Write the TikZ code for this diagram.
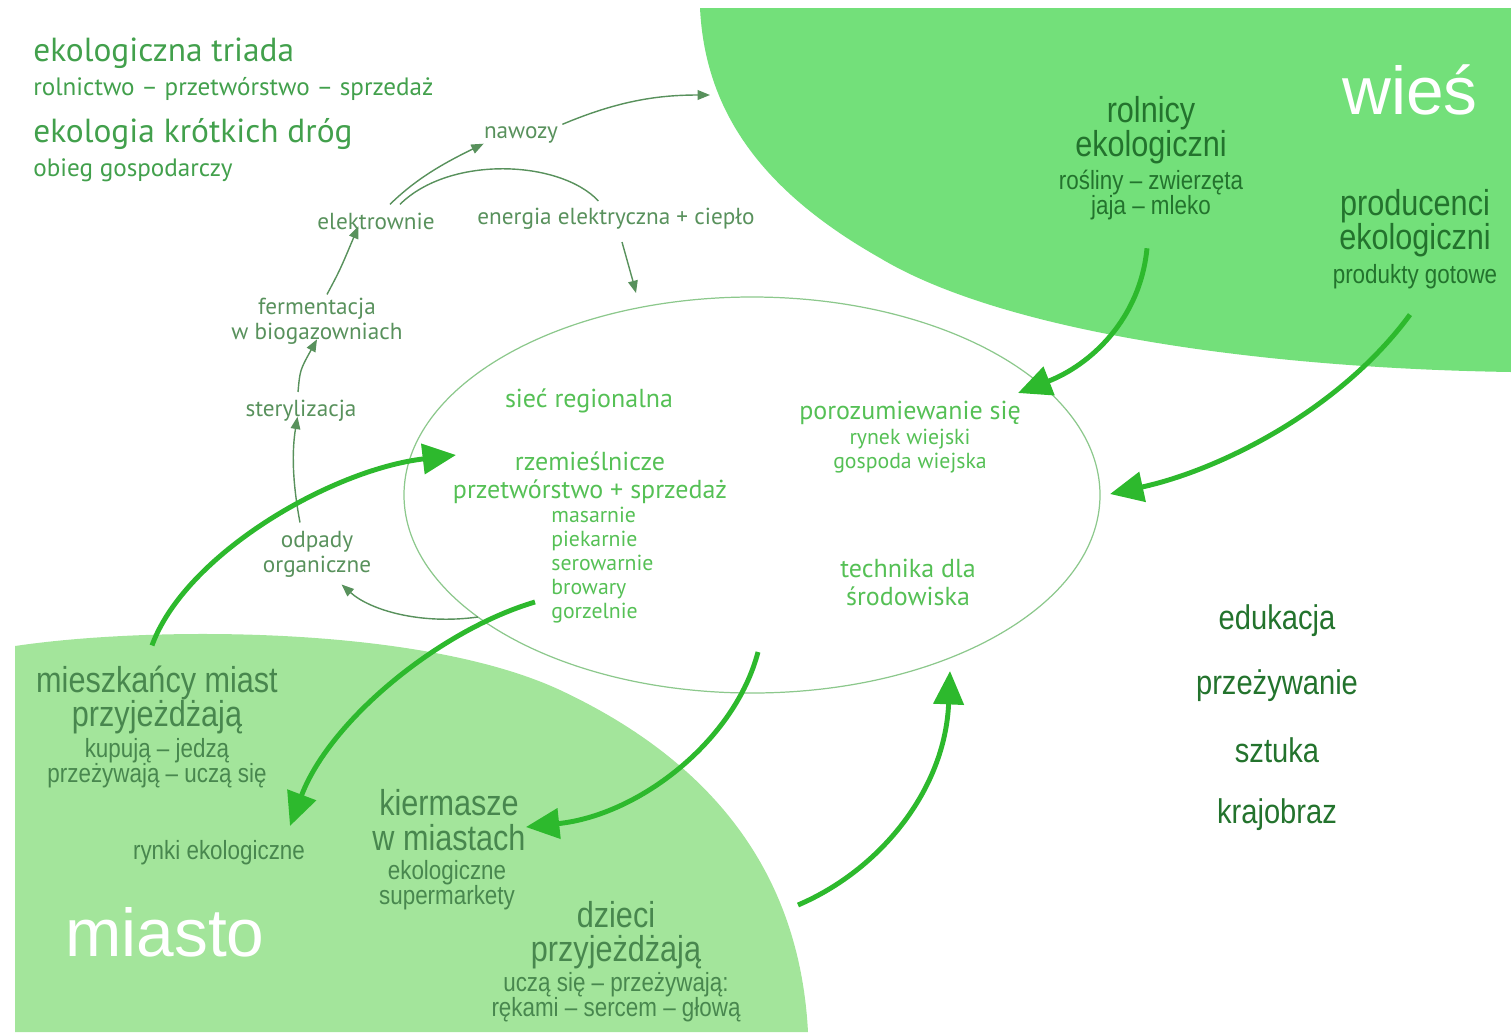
\documentclass[tikz,border=0pt]{standalone}
\usepackage{fontspec}
\setmainfont{PT Sans}
\newfontfamily\condfont[FakeStretch=0.85]{Liberation Sans}
\newfontfamily\plainfont{Liberation Sans}
\usetikzlibrary{arrows.meta}
\definecolor{wiesgreen}{RGB}{115,224,122}
\definecolor{miastogreen}{RGB}{163,229,155}
\definecolor{arrowgreen}{RGB}{45,185,45}
\definecolor{cyclegray}{RGB}{88,145,92}
\definecolor{ringgreen}{RGB}{140,200,140}
\definecolor{innergreen}{RGB}{85,192,85}
\definecolor{titlegreen}{RGB}{66,160,76}
\definecolor{darkgreen}{RGB}{35,115,45}
\definecolor{citygreen}{RGB}{72,135,78}
\tikzset{
  bigarrow/.style={draw=arrowgreen, line width=2.8pt, -{Triangle[length=19pt,width=17pt]}},
  cyclearrow/.style={draw=cyclegray, line width=0.8pt, -{Triangle[length=7pt,width=5.5pt]}},
  toplabel/.style={text=titlegreen, anchor=west, inner sep=0pt},
  cyclelabel/.style={text=cyclegray, align=center, inner sep=0pt, font=\fontsize{13.2}{14}\selectfont},
  ringlabel/.style={text=innergreen, align=center, inner sep=0pt},
  condlabel/.style={align=center, inner sep=0pt},
}
\begin{document}
\begin{tikzpicture}[x=0.02cm, y=-0.02cm]
\useasboundingbox (0,0) rectangle (1511,1032);
\fill[wiesgreen] (700,8) -- (1511,8) -- (1511,372) .. controls (1250,368) and (1000,330) .. (880,258)
  .. controls (760,190) and (705,110) .. (700,8) -- cycle;
\fill[miastogreen] (15,1032) -- (15,646) .. controls (150,626) and (420,625) .. (560,690)
  .. controls (720,765) and (800,880) .. (808,1032) -- cycle;
\draw[ringgreen, line width=0.7pt] (752,495) ellipse [x radius=348, y radius=198];

\node (triad) [toplabel, font=\fontsize{19}{20}\selectfont] at (33,53) {ekologiczna triada};
\node (triadsub) [toplabel, font=\fontsize{14.3}{15}\selectfont] at (33,89) {rolnictwo – przetwórstwo – sprzedaż};
\node (shortways) [toplabel, font=\fontsize{19}{20}\selectfont] at (33,134) {ekologia krótkich dróg};
\node (shortsub) [toplabel, font=\fontsize{14.3}{15}\selectfont] at (33,170) {obieg gospodarczy};

\node (nawozy) [cyclelabel] at (521,135) {nawozy};
\node (elektr) [cyclelabel] at (376,221) {elektrownie};
\node (energia) [cyclelabel] at (616,219) {energia elektryczna + ciepło};
\node (ferment) [cyclelabel, font=\fontsize{13.2}{14.3}\selectfont] at (317,321) {fermentacja\\w biogazowniach};
\node (steril) [cyclelabel] at (301,411) {sterylizacja};
\node (odpady) [cyclelabel, font=\fontsize{13.2}{14.3}\selectfont] at (317,554) {odpady\\organiczne};
\coordinate (wiesedge) at (710,95);
\coordinate (ringtop) at (636,293);
\coordinate (ringleft) at (478,617);

\draw[cyclearrow] (elektr.north) ++(14,-8) .. controls (415,180) and (440,165) .. (nawozy.south west);
\draw[cyclearrow] (nawozy.north east) ++(4,-2) .. controls (620,100) and (660,95) .. (wiesedge);
\draw[draw=cyclegray, line width=0.8pt] (elektr.north) ++(24,-8) .. controls (450,155) and (560,160) .. ([xshift=-10pt,yshift=4pt]energia.north);
\draw[cyclearrow] (energia.south) ++(6,12) .. controls (628,262) .. (ringtop);
\draw[cyclearrow] (ferment.north) ++(10,-3) .. controls (340,270) .. ([xshift=-10pt,yshift=2pt]elektr.south);
\draw[cyclearrow] (steril.north) ++(-3,-8) .. controls (300,370) .. ([yshift=3pt]ferment.south);
\draw[cyclearrow] (odpady.north) ++(-17,-8) .. controls (292,480) and (292,450) .. ([xshift=-2pt,yshift=3pt]steril.south);
\draw[cyclearrow] (ringleft) .. controls (420,625) and (370,610) .. ([xshift=14pt,yshift=-4pt]odpady.south);

\node (siec) [ringlabel, font=\fontsize{14.8}{16}\selectfont] at (589,401) {sieć regionalna};
\node (rzem) [ringlabel, font=\fontsize{14.8}{15.9}\selectfont] at (590,478) {rzemieślnicze\\przetwórstwo + sprzedaż};
\node (rzemsub) [ringlabel, align=left, anchor=west, font=\fontsize{12.4}{13.6}\selectfont] at (551,565) {masarnie\\piekarnie\\serowarnie\\browary\\gorzelnie};
\node (poroz) [ringlabel, font=\fontsize{14.8}{16}\selectfont] at (910,413) {porozumiewanie się};
\node (porozsub) [ringlabel, font=\fontsize{12.4}{13.6}\selectfont] at (910,451) {rynek wiejski\\gospoda wiejska};
\node (techn) [ringlabel, font=\fontsize{14.8}{15.9}\selectfont] at (908,582) {technika dla\\środowiska};

\node (wies) [text=white, inner sep=0pt, font=\plainfont\fontsize{38.5}{40}\selectfont] at (1410,90) {wieś};
\node (rolnicy) [condlabel, text=darkgreen, font=\condfont\fontsize{20.5}{19.6}\selectfont] at (1151,130) {rolnicy\\ekologiczni};
\node (rolnsub) [condlabel, text=darkgreen, font=\condfont\fontsize{15}{14.2}\selectfont] at (1151,195) {rośliny – zwierzęta\\jaja – mleko};
\node (produc) [condlabel, text=darkgreen, font=\condfont\fontsize{20.5}{19.6}\selectfont] at (1415,223) {producenci\\ekologiczni};
\node (producsub) [condlabel, text=darkgreen, font=\condfont\fontsize{15}{16}\selectfont] at (1415,277) {produkty gotowe};

\node (miasto) [text=white, inner sep=0pt, font=\plainfont\fontsize{38.5}{40}\selectfont] at (165,932) {miasto};
\node (mieszk) [condlabel, text=citygreen, font=\condfont\fontsize{20.5}{19.6}\selectfont] at (157,700) {mieszkańcy miast\\przyjeżdżają};
\node (mieszksub) [condlabel, text=citygreen, font=\condfont\fontsize{15}{14.2}\selectfont] at (157,763) {kupują – jedzą\\przeżywają – uczą się};
\node (rynki) [condlabel, text=citygreen, font=\condfont\fontsize{15}{16}\selectfont] at (219,853) {rynki ekologiczne};
\node (kiermasze) [condlabel, text=citygreen, font=\condfont\fontsize{20.5}{19.6}\selectfont] at (449,820) {kiermasze\\w miastach};
\node (kiermsub) [condlabel, text=citygreen, font=\condfont\fontsize{15}{14.2}\selectfont] at (447,885) {ekologiczne\\supermarkety};
\node (dzieci) [condlabel, text=citygreen, font=\condfont\fontsize{20.5}{19.6}\selectfont] at (616,935) {dzieci\\przyjeżdżają};
\node (dziecisub) [condlabel, text=citygreen, font=\condfont\fontsize{15}{14.2}\selectfont] at (616,997) {uczą się – przeżywają:\\rękami – sercem – głową};

\node (edukacja) [condlabel, text=darkgreen, font=\condfont\fontsize{19.5}{20}\selectfont] at (1277,621) {edukacja};
\node (przezyw) [condlabel, text=darkgreen, font=\condfont\fontsize{19.5}{20}\selectfont] at (1277,686) {przeżywanie};
\node (sztuka) [condlabel, text=darkgreen, font=\condfont\fontsize{19.5}{20}\selectfont] at (1277,750) {sztuka};
\node (krajobraz) [condlabel, text=darkgreen, font=\condfont\fontsize{19.5}{20}\selectfont] at (1277,815) {krajobraz};

\coordinate (cityin) at (456,455);
\coordinate (ringout) at (535,602);
\coordinate (marketin) at (290,826);
\coordinate (ringlow) at (758,652);
\coordinate (ringbottom) at (950,671);
\coordinate (dzieciout) at (798,905);
\coordinate (farmin) at (1018,393);
\coordinate (prodin) at (1110,494);

\draw[bigarrow] (mieszk.north) ++(-5,-20) .. controls (185,555) and (330,470) .. (cityin);
\draw[bigarrow] (ringout) .. controls (440,630) and (330,720) .. (marketin);
\draw[bigarrow] (ringlow) .. controls (735,740) and (640,815) .. ([yshift=-4pt]kiermasze.east);
\draw[bigarrow] (dzieciout) .. controls (880,870) and (945,790) .. (ringbottom);
\draw[bigarrow] (rolnsub.south) ++(-4,28) .. controls (1140,320) and (1090,365) .. (farmin);
\draw[bigarrow] (producsub.south) ++(-5,25) .. controls (1340,410) and (1220,470) .. (prodin);
\end{tikzpicture}
\end{document}
